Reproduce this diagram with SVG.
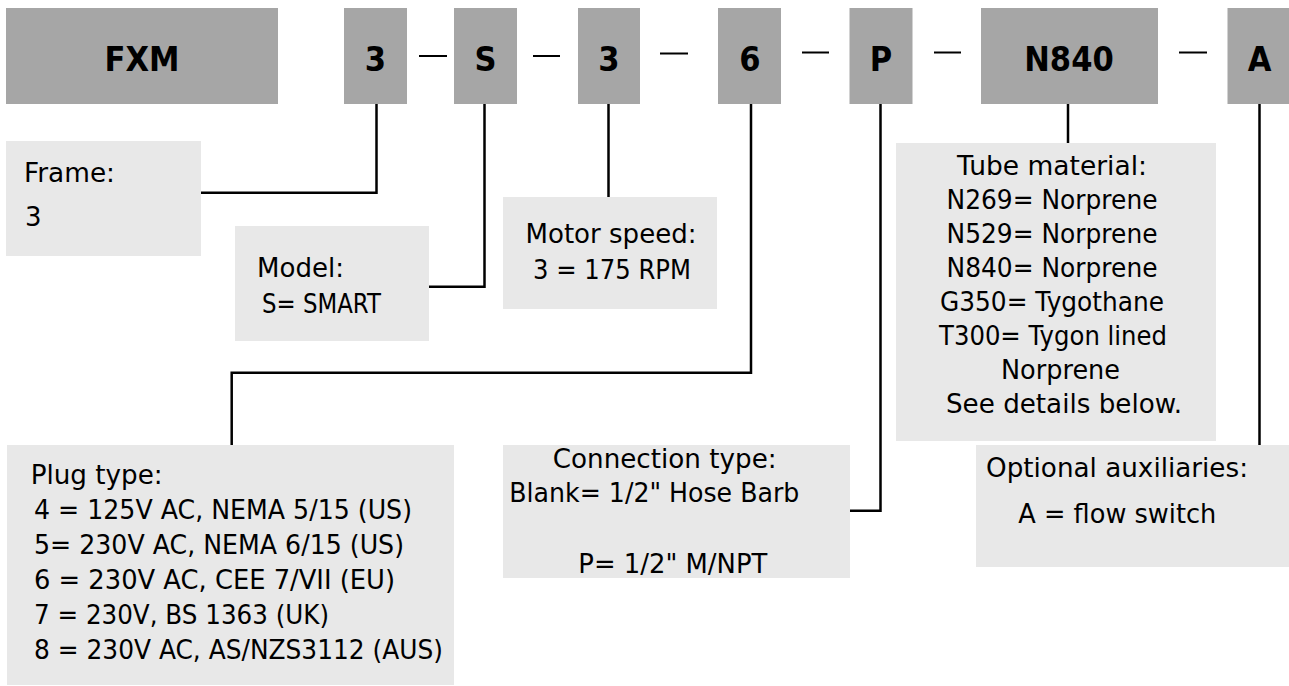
<svg xmlns="http://www.w3.org/2000/svg" width="1289" height="686" viewBox="0 0 1289 686">
<style>
.code{fill:#a6a6a6}
.note{fill:#e8e8e8}
.ct{font-family:"DejaVu Sans Condensed","DejaVu Sans","Liberation Sans",sans-serif;font-weight:bold;font-size:34px;fill:#000;text-anchor:middle}
.t{font-family:"DejaVu Sans","Liberation Sans",sans-serif;font-size:26px;fill:#000}
.m{text-anchor:middle}
.ln{fill:none;stroke:#000;stroke-width:2.5}
.dash{stroke:#000;stroke-width:2}
</style>
<rect width="1289" height="686" fill="#fff"/>
<g id="code-FXM"><rect class="code" x="6" y="8" width="272" height="96"/><text class="ct" x="142" y="71">FXM</text></g>
<g id="code-frame"><rect class="code" x="344" y="8" width="63" height="96"/><text class="ct" x="375.5" y="71">3</text></g>
<g id="code-model"><rect class="code" x="454" y="8" width="63" height="96"/><text class="ct" x="485.5" y="71">S</text></g>
<g id="code-speed"><rect class="code" x="578" y="8" width="62" height="96"/><text class="ct" x="609" y="71">3</text></g>
<g id="code-plug"><rect class="code" x="718" y="8" width="63" height="96"/><text class="ct" x="750" y="71">6</text></g>
<g id="code-connection"><rect class="code" x="849.5" y="8" width="63" height="96"/><text class="ct" x="881" y="71">P</text></g>
<g id="code-tube"><rect class="code" x="981" y="8" width="177" height="96"/><text class="ct" x="1069" y="71">N840</text></g>
<g id="code-aux"><rect class="code" x="1227.5" y="8" width="62" height="96"/><text class="ct" x="1259.5" y="71">A</text></g>
<g id="separators">
<line class="dash" x1="419" y1="56" x2="447" y2="56"/>
<line class="dash" x1="533" y1="56" x2="560" y2="56"/>
<line class="dash" x1="660" y1="53.5" x2="688" y2="53.5"/>
<line class="dash" x1="802" y1="52.5" x2="829" y2="52.5"/>
<line class="dash" x1="934" y1="52.5" x2="961" y2="52.5"/>
<line class="dash" x1="1179" y1="52.5" x2="1207" y2="52.5"/>
</g>
<g id="connectors">
<path class="ln" d="M376.5,104 V192.7 H201"/>
<path class="ln" d="M484.5,104 V286.7 H429"/>
<path class="ln" d="M608.5,104 V197"/>
<path class="ln" d="M751,104 V372.7 H231.7 V445"/>
<path class="ln" d="M880.5,104 V510.7 H850"/>
<path class="ln" d="M1068,104 V143"/>
<path class="ln" d="M1259.5,104 V445"/>
</g>
<g id="note-frame"><rect class="note" x="6" y="141" width="195" height="115"/>
<text class="t" x="24" y="181.7" textLength="91" lengthAdjust="spacingAndGlyphs">Frame:</text><text class="t" x="25" y="226">3</text></g>
<g id="note-model"><rect class="note" x="235" y="226" width="194" height="115"/>
<text class="t" x="257" y="276.7" textLength="87" lengthAdjust="spacingAndGlyphs">Model:</text><text class="t" x="262" y="313.3" textLength="119" lengthAdjust="spacingAndGlyphs">S= SMART</text></g>
<g id="note-speed"><rect class="note" x="503" y="197" width="214" height="112"/>
<text class="t m" x="611" y="243.3" textLength="171" lengthAdjust="spacingAndGlyphs">Motor speed:</text><text class="t m" x="612" y="279.3" textLength="158" lengthAdjust="spacingAndGlyphs">3 = 175 RPM</text></g>
<g id="note-tube"><rect class="note" x="896" y="143" width="320" height="298"/>
<text class="t m" x="1052" y="175" textLength="190" lengthAdjust="spacingAndGlyphs">Tube material:</text>
<text class="t m" x="1052" y="209" textLength="211" lengthAdjust="spacingAndGlyphs">N269= Norprene</text>
<text class="t m" x="1052" y="243" textLength="211" lengthAdjust="spacingAndGlyphs">N529= Norprene</text>
<text class="t m" x="1052" y="277" textLength="211" lengthAdjust="spacingAndGlyphs">N840= Norprene</text>
<text class="t m" x="1052" y="311" textLength="224" lengthAdjust="spacingAndGlyphs">G350= Tygothane</text>
<text class="t m" x="1053" y="345" textLength="228" lengthAdjust="spacingAndGlyphs">T300= Tygon lined</text>
<text class="t m" x="1060.5" y="379" textLength="119" lengthAdjust="spacingAndGlyphs">Norprene</text>
<text class="t m" x="1064" y="413" textLength="236" lengthAdjust="spacingAndGlyphs">See details below.</text></g>
<g id="note-plug"><rect class="note" x="7" y="445" width="447" height="240"/>
<text class="t" x="30.7" y="484" textLength="132" lengthAdjust="spacingAndGlyphs">Plug type:</text>
<text class="t" x="34" y="519" textLength="378" lengthAdjust="spacingAndGlyphs">4 = 125V AC, NEMA 5/15 (US)</text>
<text class="t" x="34" y="553.5" textLength="370" lengthAdjust="spacingAndGlyphs">5= 230V AC, NEMA 6/15 (US)</text>
<text class="t" x="34" y="589" textLength="361" lengthAdjust="spacingAndGlyphs">6 = 230V AC, CEE 7/VII (EU)</text>
<text class="t" x="34" y="624" textLength="295" lengthAdjust="spacingAndGlyphs">7 = 230V, BS 1363 (UK)</text>
<text class="t" x="34" y="659" textLength="409" lengthAdjust="spacingAndGlyphs">8 = 230V AC, AS/NZS3112 (AUS)</text></g>
<g id="note-connection"><rect class="note" x="503" y="445" width="347" height="133"/>
<text class="t" x="552.7" y="468.3" textLength="224" lengthAdjust="spacingAndGlyphs">Connection type:</text>
<text class="t" x="509.3" y="501.7" textLength="290" lengthAdjust="spacingAndGlyphs">Blank= 1/2" Hose Barb</text>
<text class="t" x="578.3" y="573" textLength="189" lengthAdjust="spacingAndGlyphs">P= 1/2" M/NPT</text></g>
<g id="note-aux"><rect class="note" x="976" y="445" width="313" height="122"/>
<text class="t" x="986" y="476.7" textLength="262" lengthAdjust="spacingAndGlyphs">Optional auxiliaries:</text>
<text class="t" x="1018.3" y="522.7" textLength="198" lengthAdjust="spacingAndGlyphs">A = flow switch</text></g>
</svg>
